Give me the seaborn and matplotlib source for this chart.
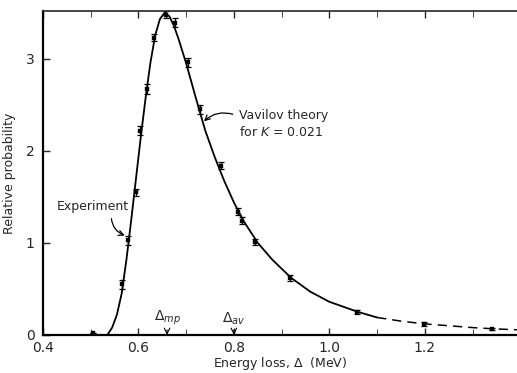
import matplotlib
matplotlib.use("Agg")
import matplotlib.pyplot as plt
import numpy as np
import pandas as pd
import seaborn as sns

# experimental points (energy loss in MeV, relative probability, error)
exp_x = [0.505, 0.565, 0.578, 0.595, 0.603, 0.618, 0.632, 0.658, 0.676,
         0.704, 0.729, 0.773, 0.808, 0.817, 0.844, 0.917, 1.058, 1.198, 1.34]
exp_y = [0.02, 0.55, 1.03, 1.55, 2.22, 2.67, 3.23, 3.48, 3.39,
         2.96, 2.45, 1.84, 1.34, 1.24, 1.01, 0.62, 0.25, 0.12, 0.065]
exp_err = [0.0, 0.05, 0.05, 0.04, 0.05, 0.05, 0.04, 0.04, 0.05,
           0.05, 0.05, 0.04, 0.04, 0.04, 0.03, 0.03, 0.02, 0.02, 0.01]

# Vavilov theory curve for K = 0.021
theory_x = [0.535, 0.545, 0.555, 0.565, 0.575, 0.585, 0.595, 0.605, 0.615,
            0.625, 0.635, 0.645, 0.655, 0.665, 0.675, 0.685, 0.70, 0.72,
            0.74, 0.76, 0.78, 0.80, 0.82, 0.85, 0.88, 0.92, 0.96, 1.00,
            1.06, 1.10, 1.15, 1.20, 1.25, 1.30, 1.35, 1.40]
theory_y = [0.0, 0.08, 0.22, 0.45, 0.82, 1.25, 1.70, 2.15, 2.57,
            2.95, 3.25, 3.43, 3.50, 3.46, 3.35, 3.2, 2.95, 2.58,
            2.22, 1.93, 1.67, 1.44, 1.24, 1.0, 0.82, 0.62, 0.47, 0.36,
            0.25, 0.19, 0.15, 0.12, 0.10, 0.08, 0.065, 0.055]

x_ticks = [0.4, 0.6, 0.8, 1.0, 1.2]
y_ticks = [0, 1, 2, 3]

exp = pd.DataFrame({"x": exp_x, "y": exp_y, "err": exp_err})
th = pd.DataFrame({"x": theory_x, "y": theory_y})
solid = th[th["x"] <= 1.10]
dashed = th[th["x"] >= 1.10]

sns.set_style("ticks")
plt.rcParams["font.family"] = ["DejaVu Sans"]

fig = plt.figure(figsize=(5.17, 3.73), dpi=100)
ax = fig.add_axes([0.083, 0.102, 0.917, 0.869])

sns.lineplot(data=solid, x="x", y="y", color="black", linewidth=1.3, ax=ax)
sns.lineplot(data=dashed, x="x", y="y", color="black", linewidth=1.1,
             linestyle=(0, (6, 4)), ax=ax)
ax.errorbar(exp["x"], exp["y"], yerr=exp["err"], fmt="none", ecolor="black",
            elinewidth=0.9, capsize=2, capthick=0.9)
sns.scatterplot(data=exp, x="x", y="y", color="black", s=10, marker="s",
                edgecolor="black", ax=ax)

ax.set_xlim(0.4, 1.393)
ax.set_ylim(0, 3.52)
ax.set_xticks(x_ticks)
ax.set_xticklabels(["0.4", "0.6", "0.8", "1.0", "1.2"])
ax.set_xticks(np.arange(0.5, 1.4, 0.1), minor=True)
ax.set_yticks(y_ticks)
ax.tick_params(axis="both", direction="in", length=5, width=1, labelsize=10,
               top=True)
ax.tick_params(axis="x", pad=4)
ax.tick_params(axis="y", pad=6)
ax.tick_params(axis="x", which="minor", direction="in", length=4, top=True)
ax.set_xlabel("Energy loss, $\\Delta$  (MeV)", fontsize=9, labelpad=0)
ax.set_ylabel("Relative probability", fontsize=9, labelpad=7)

for s in ["left", "bottom"]:
    ax.spines[s].set_linewidth(1.6)
    ax.spines[s].set_color("black")
ax.spines["top"].set_linewidth(1.2)
ax.spines["right"].set_visible(False)

ax.annotate("Vavilov theory\nfor $K$ = 0.021", xy=(0.733, 2.3),
            xytext=(0.81, 2.29), fontsize=9, linespacing=1.3, va="center",
            arrowprops=dict(arrowstyle="->", color="black", lw=0.9,
                            connectionstyle="arc3,rad=0.35",
                            relpos=(0, 0.75)))
ax.annotate("Experiment", xy=(0.577, 1.07), xytext=(0.43, 1.40),
            fontsize=9, va="center",
            arrowprops=dict(arrowstyle="->", color="black", lw=0.9,
                            connectionstyle="arc3,rad=0.4",
                            shrinkA=2, relpos=(0.75, 0)))

ax.annotate("$\\Delta_{mp}$", xy=(0.66, 0.0), xytext=(0.66, 0.09),
            ha="center", va="bottom", fontsize=10,
            arrowprops=dict(arrowstyle="->", color="black", lw=0.8,
                            shrinkA=0, shrinkB=0))
ax.annotate("$\\Delta_{av}$", xy=(0.80, 0.0), xytext=(0.80, 0.09),
            ha="center", va="bottom", fontsize=10,
            arrowprops=dict(arrowstyle="->", color="black", lw=0.8,
                            shrinkA=0, shrinkB=0))

fig.savefig("out.png", dpi=100)
